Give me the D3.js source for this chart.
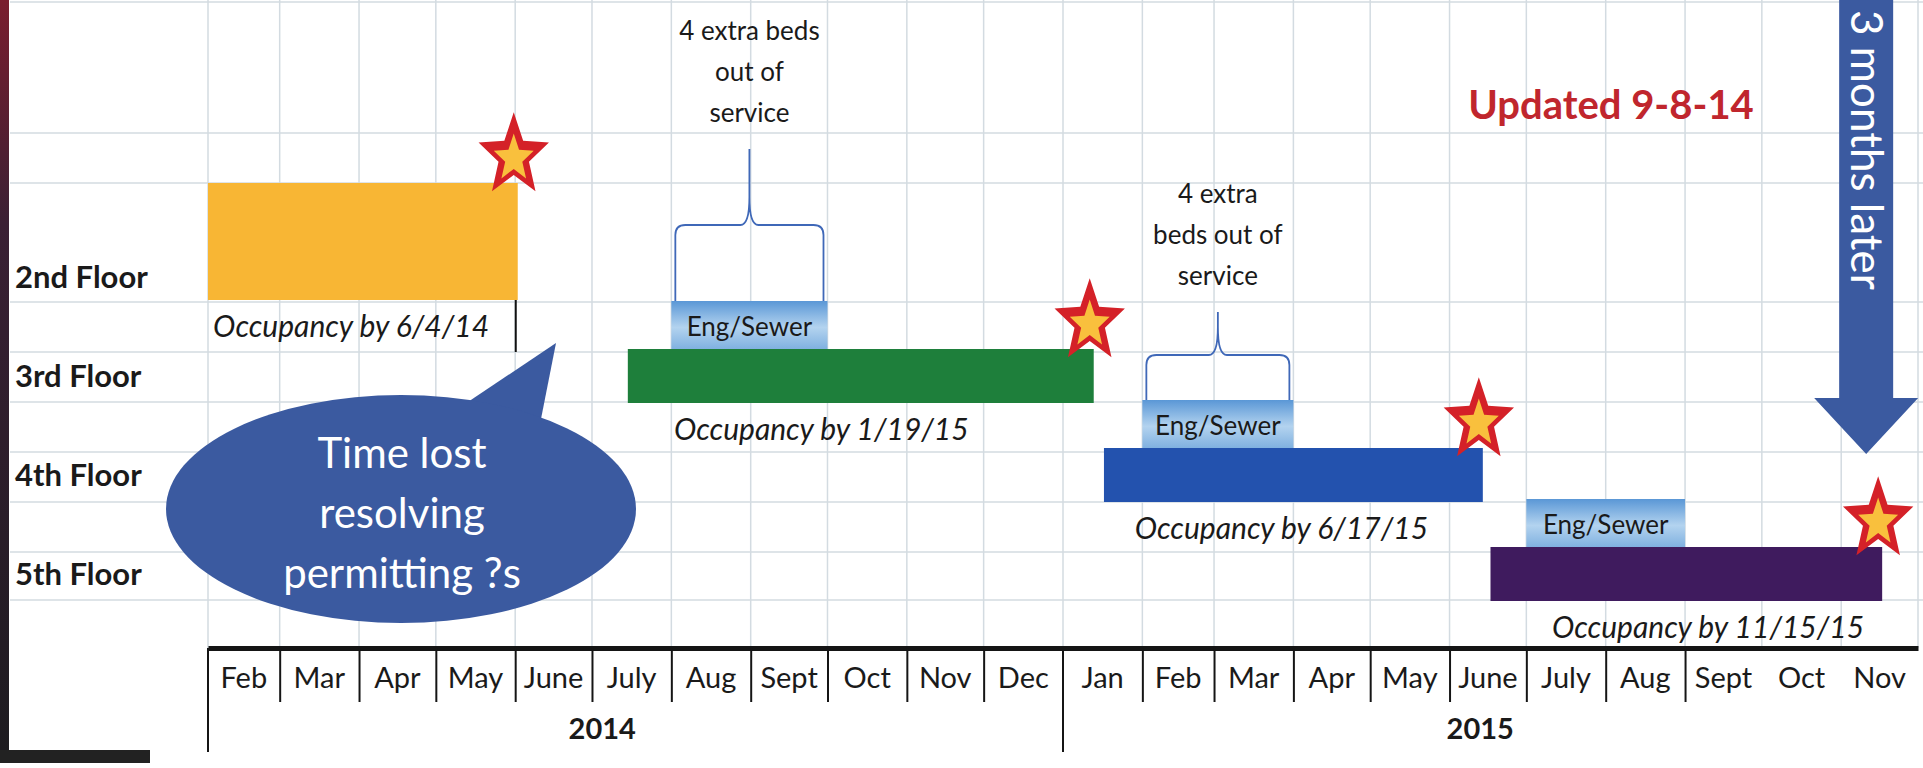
<!DOCTYPE html>
<meta charset="utf-8">
<style>
	body { margin: 0; background: #fff; }
	svg { display: block; font-family: Lato, "Open Sans", sans-serif; }
</style>
<svg width="1923" height="768"></svg>
<script src="https://cdn.jsdelivr.net/npm/d3@7"></script>
<script>
	var parse = d3.timeParse("%Y-%m-%d");

	// rows and timeline
	var floors = ["2nd Floor", "3rd Floor", "4th Floor", "5th Floor"];
	var months = ["Feb", "Mar", "Apr", "May", "June", "July", "Aug", "Sept", "Oct", "Nov", "Dec",
	              "Jan", "Feb", "Mar", "Apr", "May", "June", "July", "Aug", "Sept", "Oct", "Nov"];
	var yearLabels = ["2014", "2015"];
	var yearStarts = ["2014-02-01", "2015-01-01"];
	var yearCentres = ["2014-07-05", "2015-06-13"];

	// occupancy bars
	var barFloors = ["2nd Floor", "3rd Floor", "4th Floor", "5th Floor"];
	var barStarts = ["2014-02-01", "2014-07-15", "2015-01-17", "2015-06-17"];
	var barEnds   = ["2014-06-02", "2015-01-13", "2015-06-14", "2015-11-17"];
	var occLabels = ["Occupancy by 6/4/14", "Occupancy by 1/19/15", "Occupancy by 6/17/15", "Occupancy by 11/15/15"];
	var occLabelFrom = ["2014-02-03", "2014-08-02", "2015-01-29", "2015-07-11"];

	// eng/sewer phases
	var engFloors = ["3rd Floor", "4th Floor", "5th Floor"];
	var engStarts = ["2014-08-01", "2015-02-01", "2015-07-01"];
	var engEnds   = ["2014-10-01", "2015-04-01", "2015-09-01"];

	// beds notes (on the first two eng/sewer phases)
	var bedNotes = [["4 extra beds", "out of", "service"], ["4 extra", "beds out of", "service"]];

	var barColor = {"2nd Floor": "#f8b634", "3rd Floor": "#1e7f3b", "4th Floor": "#2352ae", "5th Floor": "#3f1b5e"};
	var braceSize = [{h: 76, peak: 152}, {h: 45, peak: 88}];

	var svg = d3.select("svg"),
		width = +svg.attr("width"),
		height = +svg.attr("height");

	var axisY = 648;

	var x = d3.scaleTime()
		.domain([parse("2014-02-01"), parse("2015-12-01")])
		.range([208, 1918]);

	var y = d3.scalePoint().domain(floors).range([277, 574]);

	function barTop(f) { return f === "2nd Floor" ? y(f) - 94 : y(f) - 27; }
	function barBottom(f) { return f === "2nd Floor" ? y(f) + 23 : y(f) + 27; }

	var defs = svg.append("defs");
	var eg = defs.append("linearGradient").attr("id", "eng").attr("x1", 0).attr("y1", 0).attr("x2", 0).attr("y2", 1);
	eg.append("stop").attr("offset", "0%").attr("stop-color", "#5a97d6");
	eg.append("stop").attr("offset", "55%").attr("stop-color", "#b3d3ef");
	eg.append("stop").attr("offset", "100%").attr("stop-color", "#80b1e0");
	var lg = defs.append("linearGradient").attr("id", "edge").attr("x1", 0).attr("y1", 0).attr("x2", 0).attr("y2", 1);
	lg.append("stop").attr("offset", "0%").attr("stop-color", "#7a1d2e");
	lg.append("stop").attr("offset", "30%").attr("stop-color", "#3a2034");
	lg.append("stop").attr("offset", "100%").attr("stop-color", "#1d1b20");

	// grid
	var monthStarts = d3.timeMonth.range(x.domain()[0], d3.timeDay.offset(x.domain()[1], 1));
	var gridRows = [2, 133, 183, 302, 352, 402, 452, 502, 552, 600];
	var grid = svg.append("g").attr("stroke", "#d3dbe1").attr("stroke-width", 1.5);
	grid.selectAll(".gx").data(monthStarts).enter().append("line")
		.attr("x1", function(d){ return x(d); }).attr("x2", function(d){ return x(d); })
		.attr("y1", 0).attr("y2", axisY);
	grid.selectAll(".gy").data(gridRows).enter().append("line")
		.attr("x1", 10).attr("x2", width).attr("y1", function(d){ return d; }).attr("y2", function(d){ return d; });

	// photo edge
	svg.append("rect").attr("x", 0).attr("y", 0).attr("width", 9).attr("height", 752).attr("fill", "url(#edge)");
	svg.append("rect").attr("x", 0).attr("y", 750).attr("width", 150).attr("height", 13).attr("fill", "#222");

	// floor labels
	svg.append("g").selectAll("text").data(floors).enter().append("text")
		.attr("x", 15).attr("y", function(d){ return y(d); }).attr("dy", "0.35em")
		.attr("font-size", 31).attr("font-weight", "bold").attr("fill", "#1a1a1a")
		.text(function(d){ return d; });

	// bars
	var bars = barFloors.map(function(f, i){
		return {floor: f, start: parse(barStarts[i]), end: parse(barEnds[i]), label: occLabels[i], from: parse(occLabelFrom[i])};
	});
	svg.append("g").selectAll("rect").data(bars).enter().append("rect")
		.attr("x", function(d){ return x(d.start); })
		.attr("y", function(d){ return barTop(d.floor); })
		.attr("width", function(d){ return x(d.end) - x(d.start); })
		.attr("height", function(d){ return barBottom(d.floor) - barTop(d.floor); })
		.attr("fill", function(d){ return barColor[d.floor]; });

	svg.append("g").selectAll("text").data(bars).enter().append("text")
		.attr("x", function(d){ return x(d.from); })
		.attr("y", function(d){ return barBottom(d.floor) + 26; }).attr("dy", "0.35em")
		.attr("font-size", 30).attr("font-style", "italic").attr("fill", "#1a1a1a")
		.text(function(d){ return d.label; });

	// cursor mark after first label
	svg.append("line")
		.attr("x1", x(bars[0].end) - 2).attr("x2", x(bars[0].end) - 2)
		.attr("y1", barBottom(bars[0].floor)).attr("y2", barBottom(bars[0].floor) + 52)
		.attr("stroke", "#111").attr("stroke-width", 2);

	// eng/sewer boxes
	var eng = engFloors.map(function(f, i){ return {floor: f, start: parse(engStarts[i]), end: parse(engEnds[i])}; });
	var engG = svg.append("g").selectAll("g").data(eng).enter().append("g");
	engG.append("rect")
		.attr("x", function(d){ return x(d.start); })
		.attr("y", function(d){ return barTop(d.floor) - 48; })
		.attr("width", function(d){ return x(d.end) - x(d.start); })
		.attr("height", 48)
		.attr("fill", "url(#eng)");
	engG.append("text")
		.attr("x", function(d){ return (x(d.start) + x(d.end)) / 2; })
		.attr("y", function(d){ return barTop(d.floor) - 22; }).attr("dy", "0.35em")
		.attr("text-anchor", "middle").attr("font-size", 26).attr("fill", "#1a1a1a")
		.text("Eng/Sewer");

	// braces with notes
	function bracePath(x0, x1, yb, yh, yp) {
		var xc = (x0 + x1) / 2, r = 10;
		return "M" + x0 + "," + yb + "L" + x0 + "," + (yh + r) + "Q" + x0 + "," + yh + " " + (x0 + r) + "," + yh +
			"L" + (xc - 9) + "," + yh + "Q" + xc + "," + yh + " " + xc + "," + (yh - 28) + "L" + xc + "," + yp +
			"L" + xc + "," + (yh - 28) + "Q" + xc + "," + yh + " " + (xc + 9) + "," + yh +
			"L" + (x1 - r) + "," + yh + "Q" + x1 + "," + yh + " " + x1 + "," + (yh + r) + "L" + x1 + "," + yb;
	}
	bedNotes.forEach(function(lines, i){
		var d = eng[i], x0 = x(d.start) + 4, x1 = x(d.end) - 4, yb = barTop(d.floor) - 48;
		var yh = yb - braceSize[i].h, yp = yb - braceSize[i].peak;
		svg.append("path").attr("d", bracePath(x0, x1, yb, yh, yp))
			.attr("fill", "none").attr("stroke", "#3f68b8").attr("stroke-width", 1.8);
		svg.append("g").selectAll("text").data(lines).enter().append("text")
			.attr("x", (x0 + x1) / 2)
			.attr("y", function(t, j){ return yp - 36 - (lines.length - 1 - j) * 41; }).attr("dy", "0.35em")
			.attr("text-anchor", "middle").attr("font-size", 26).attr("fill", "#1a1a1a")
			.text(function(t){ return t; });
	});

	// stars at occupancy dates
	function starPath(R, r) {
		var pts = d3.range(10).map(function(i){
			var a = i * Math.PI / 5, rad = i % 2 ? r : R;
			return [rad * Math.sin(a), -rad * Math.cos(a)];
		});
		return "M" + pts.join("L") + "Z";
	}
	var stars = svg.append("g").selectAll("g").data(bars).enter().append("g")
		.attr("transform", function(d){ return "translate(" + (x(d.end) - 4) + "," + (barTop(d.floor) - 27) + ") scale(1,1.18)"; });
	stars.append("path").attr("d", starPath(37, 16)).attr("fill", "#d42128");
	stars.append("path").attr("d", starPath(21, 9)).attr("transform", "translate(0,2)").attr("fill", "#f9c03d");

	// axis
	var sepDates = d3.timeMonth.range(parse("2014-03-01"), parse("2015-10-01"))
		.filter(function(d){ return +d !== +parse("2015-01-01"); });
	var axisG = svg.append("g").attr("transform", "translate(0," + axisY + ")")
		.call(d3.axisBottom(x).tickValues(sepDates).tickSize(54).tickSizeOuter(0).tickFormat(""));
	axisG.select(".domain").attr("stroke", "#151515").attr("stroke-width", 5);
	axisG.selectAll(".tick line").attr("stroke", "#151515").attr("stroke-width", 2);

	svg.append("g").selectAll("line").data(yearStarts).enter().append("line")
		.attr("x1", function(d){ return x(parse(d)); }).attr("x2", function(d){ return x(parse(d)); })
		.attr("y1", axisY).attr("y2", axisY + 104)
		.attr("stroke", "#151515").attr("stroke-width", 2);

	var mids = d3.timeMonth.range(x.domain()[0], x.domain()[1]).map(function(d){
		return new Date((+d + +d3.timeMonth.offset(d, 1)) / 2);
	});
	svg.append("g").selectAll("text").data(mids).enter().append("text")
		.attr("x", function(d){ return x(d); }).attr("y", axisY + 30).attr("dy", "0.35em")
		.attr("text-anchor", "middle").attr("font-size", 29).attr("fill", "#1a1a1a")
		.text(function(d, i){ return months[i]; });

	svg.append("g").selectAll("text").data(yearLabels).enter().append("text")
		.attr("x", function(d, i){ return x(parse(yearCentres[i])); }).attr("y", axisY + 81).attr("dy", "0.35em")
		.attr("text-anchor", "middle").attr("font-size", 29).attr("font-weight", "bold").attr("fill", "#1a1a1a")
		.text(function(d){ return d; });

	// speech bubble
	var bub = svg.append("g").attr("fill", "#3b5aa0");
	bub.append("path").attr("d", "M450,414L556,343L540,424Z");
	bub.append("ellipse").attr("cx", 401).attr("cy", 509).attr("rx", 235).attr("ry", 114);
	svg.append("g").selectAll("text").data(["Time lost", "resolving", "permitting ?s"]).enter().append("text")
		.attr("x", 402).attr("y", function(d, i){ return 453 + i * 60; }).attr("dy", "0.35em")
		.attr("text-anchor", "middle").attr("font-size", 42).attr("fill", "#fff")
		.text(function(d){ return d; });

	// updated note
	svg.append("text").attr("x", 1611).attr("y", 105).attr("dy", "0.35em")
		.attr("text-anchor", "middle").attr("font-size", 40).attr("font-weight", "bold").attr("fill", "#c0262d")
		.text("Updated 9-8-14");

	// 3 months later arrow
	var ax = x(bars[3].end) - 16;
	svg.append("path")
		.attr("d", "M" + (ax - 27) + ",0L" + (ax + 27) + ",0L" + (ax + 27) + ",398L" + (ax + 52) + ",398L" + ax + ",454L" + (ax - 52) + ",398L" + (ax - 27) + ",398Z")
		.attr("fill", "#3b5aa0");
	svg.append("text").attr("transform", "translate(" + ax + ",10) rotate(90)")
		.attr("dy", "0.35em").attr("font-size", 44).attr("fill", "#fff")
		.text("3 months later");
</script>
